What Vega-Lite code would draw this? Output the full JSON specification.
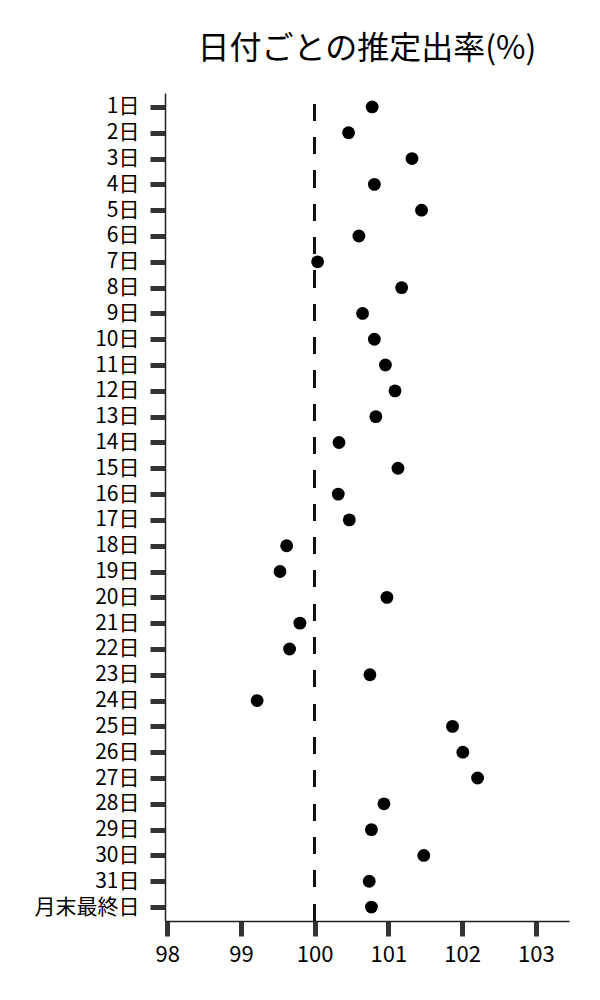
{
  "$schema": "https://vega.github.io/schema/vega-lite/v6.json",
  "autosize": {"type": "none"},
  "padding": {"left": 165, "top": 93, "right": 31, "bottom": 79},
  "width": 404,
  "height": 828,
  "background": "white",
  "title": {
    "text": "日付ごとの推定出率(%)",
    "font": "Noto Sans CJK JP",
    "fontSize": 32,
    "fontWeight": "normal",
    "color": "black",
    "anchor": "middle",
    "offset": 26
  },
  "data": {
    "values": [
      {"day": "1日", "rate": 100.78},
      {"day": "2日", "rate": 100.46},
      {"day": "3日", "rate": 101.32},
      {"day": "4日", "rate": 100.81},
      {"day": "5日", "rate": 101.45},
      {"day": "6日", "rate": 100.60},
      {"day": "7日", "rate": 100.04},
      {"day": "8日", "rate": 101.18},
      {"day": "9日", "rate": 100.65},
      {"day": "10日", "rate": 100.81},
      {"day": "11日", "rate": 100.96},
      {"day": "12日", "rate": 101.09},
      {"day": "13日", "rate": 100.83},
      {"day": "14日", "rate": 100.33},
      {"day": "15日", "rate": 101.13},
      {"day": "16日", "rate": 100.32},
      {"day": "17日", "rate": 100.47},
      {"day": "18日", "rate": 99.62},
      {"day": "19日", "rate": 99.53},
      {"day": "20日", "rate": 100.98},
      {"day": "21日", "rate": 99.80},
      {"day": "22日", "rate": 99.66},
      {"day": "23日", "rate": 100.75},
      {"day": "24日", "rate": 99.22},
      {"day": "25日", "rate": 101.87},
      {"day": "26日", "rate": 102.01},
      {"day": "27日", "rate": 102.21},
      {"day": "28日", "rate": 100.94},
      {"day": "29日", "rate": 100.77},
      {"day": "30日", "rate": 101.48},
      {"day": "31日", "rate": 100.74},
      {"day": "月末最終日", "rate": 100.77}
    ]
  },
  "layer": [
    {
      "mark": {"type": "rule", "color": "#111", "strokeWidth": 2.5, "strokeDash": [16.5, 16.83], "strokeDashOffset": 22.33},
      "encoding": {"x": {"datum": 100}}
    },
    {
      "mark": {"type": "circle", "color": "black", "opacity": 1, "size": 165},
      "encoding": {
        "y": {
          "field": "day",
          "type": "ordinal",
          "sort": null,
          "scale": {"type": "point", "padding": 0.54},
          "axis": {
            "title": null,
            "domain": true,
            "domainColor": "#222",
            "domainWidth": 1.5,
            "ticks": true,
            "tickColor": "#333",
            "tickSize": 15,
            "tickWidth": 5,
            "labelPadding": 11,
            "labelFont": "Noto Sans CJK JP",
            "labelFontSize": 21,
            "labelColor": "black",
            "grid": false
          }
        },
        "x": {
          "field": "rate",
          "type": "quantitative",
          "scale": {"domain": [97.97, 103.45], "nice": false, "zero": false},
          "axis": {
            "title": null,
            "values": [98, 99, 100, 101, 102, 103],
            "format": "d",
            "domain": true,
            "domainColor": "#222",
            "domainWidth": 1.5,
            "tickColor": "#333",
            "tickSize": 15,
            "tickWidth": 5,
            "labelPadding": 8,
            "labelFont": "Noto Sans CJK JP",
            "labelFontSize": 22,
            "labelColor": "black",
            "grid": false
          }
        }
      }
    }
  ],
  "config": {
    "view": {"stroke": null}
  }
}
